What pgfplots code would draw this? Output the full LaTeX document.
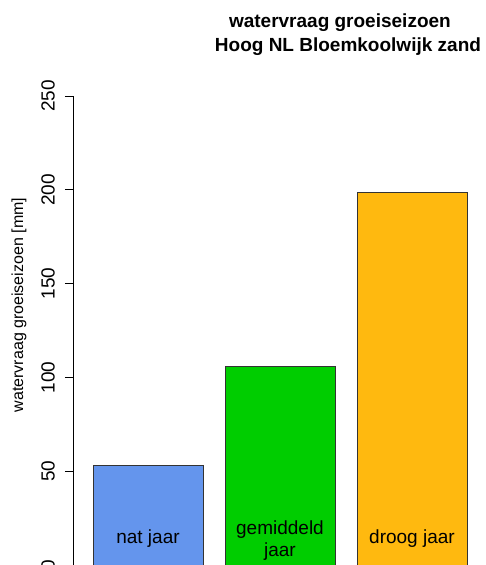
\documentclass[border=0pt]{standalone}
\usepackage{pgfplots}
\pgfplotsset{compat=1.18}
\usepackage{fontspec}
\setmainfont{Liberation Sans}

\definecolor{natblue}{HTML}{6495ED}
\definecolor{gemgreen}{HTML}{00CD00}
\definecolor{droogorange}{HTML}{FFB90F}

\begin{document}
\begin{tikzpicture}
\begin{axis}[
  scale only axis,
  width=412pt, height=469pt,
  xmin=0.018, xmax=3.764,
  ymin=0, ymax=250,
  axis x line=none,
  axis y line*=left,
  ytick={0,50,100,150,200,250},
  tick align=outside,
  major tick length=8pt,
  tick style={black, line width=0.6pt},
  axis line style={black, line width=0.6pt},
  yticklabel style={xshift=-10pt, rotate=90, anchor=south, inner sep=0pt,
    font=\fontsize{19}{22}\selectfont},
  /pgf/number format/assume math mode=true,
  clip=false,
  ybar, bar shift=0pt, bar width=110pt,
]
\addplot[fill=natblue, draw=black!80, line width=0.8pt] coordinates {(0.7,53.3)};
\addplot[fill=gemgreen, draw=black!80, line width=0.8pt] coordinates {(1.9,106)};
\addplot[fill=droogorange, draw=black!80, line width=0.8pt] coordinates {(3.1,198.8)};

\node[anchor=base, font=\fontsize{19}{22}\selectfont] at (axis cs:0.7,11.2) {nat jaar};
\node[anchor=base, font=\fontsize{19}{22}\selectfont] at (axis cs:1.9,16) {gemiddeld};
\node[anchor=base, font=\fontsize{19}{22}\selectfont] at (axis cs:1.9,4.3) {jaar};
\node[anchor=base, font=\fontsize{19}{22}\selectfont] at (axis cs:3.1,11.2) {droog jaar};

\node[rotate=90, font=\fontsize{16}{19}\selectfont] at (axis cs:-0.473,138.6) {watervraag groeiseizoen [mm]};

\node[anchor=base, font=\bfseries\fontsize{19}{22}\selectfont] at (axis cs:2.445,250) [yshift=68pt] {watervraag groeiseizoen};
\node[anchor=base, font=\bfseries\fontsize{19}{22}\selectfont] at (axis cs:2.518,250) [yshift=44pt] {Hoog NL Bloemkoolwijk zand};
\end{axis}
\path (current axis.south west) ++(-73pt,0pt) coordinate (bbA) ++(485pt,565pt) coordinate (bbB);
\pgfresetboundingbox
\useasboundingbox (bbA) rectangle (bbB);
\end{tikzpicture}
\end{document}
